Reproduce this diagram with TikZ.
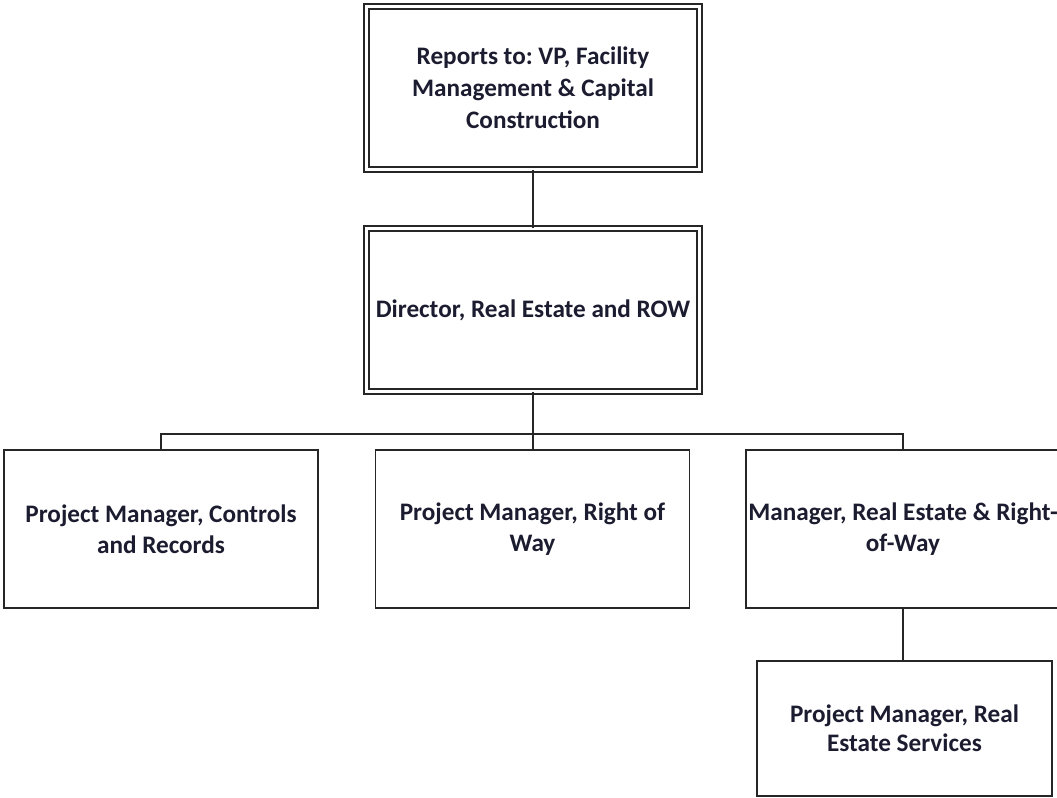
\documentclass[tikz,border=0pt]{standalone}
\usepackage{fontspec}
\setmainfont{Carlito}
\usepackage{xcolor}
\definecolor{ink}{RGB}{28,28,48}
\usetikzlibrary{positioning}
\frenchspacing

\begin{document}
\begin{tikzpicture}[x=0.75pt,y=-0.75pt,
 font=\fontsize{18.9}{23}\selectfont\bfseries,
 box/.style={draw=black!85,line width=1.1pt,align=center,text=ink,
 minimum width=235.5pt,minimum height=118.5pt,inner sep=0pt},
 dbox/.style={box,double,double distance=2.6pt,minimum width=250pt,
 minimum height=122.25pt,font=\fontsize{18.9}{24}\selectfont\bfseries},
 ln/.style={draw=black!85,line width=1.1pt}]
\clip (0,0) rectangle (1057,798);
\fill[white] (0,0) rectangle (1057,798);
\node[dbox] (vp) at (533,88) {Reports to: VP, Facility\\Management \& Capital\\Construction};
\node[dbox] (dir) at (533,310) {Director, Real Estate and ROW};
\node[box] (pmc) at (161,529) {Project Manager, Controls\\and Records};
\node[box] (pmr) at (532.5,529) {Project Manager, Right of\\Way};
\node[box] (mre) at (903,529) {Manager, Real Estate \& Right-\\of-Way};
\node[box,minimum width=221pt,minimum height=101.5pt,
 font=\fontsize{18.9}{21.5}\selectfont\bfseries] (pms) at (904.5,728.5)
 {Project Manager, Real\\Estate Services};
\draw[ln] (vp.south) -- (dir.north);
\draw[ln] (dir.south) -- ++(0,42) coordinate (bus);
\draw[ln] (bus) -| (pmc.north);
\draw[ln] (bus) -| (mre.north);
\draw[ln] (bus) -- (bus |- pmr.north);
\draw[ln] (mre.south) -- (mre.south |- pms.north);
\end{tikzpicture}
\end{document}
